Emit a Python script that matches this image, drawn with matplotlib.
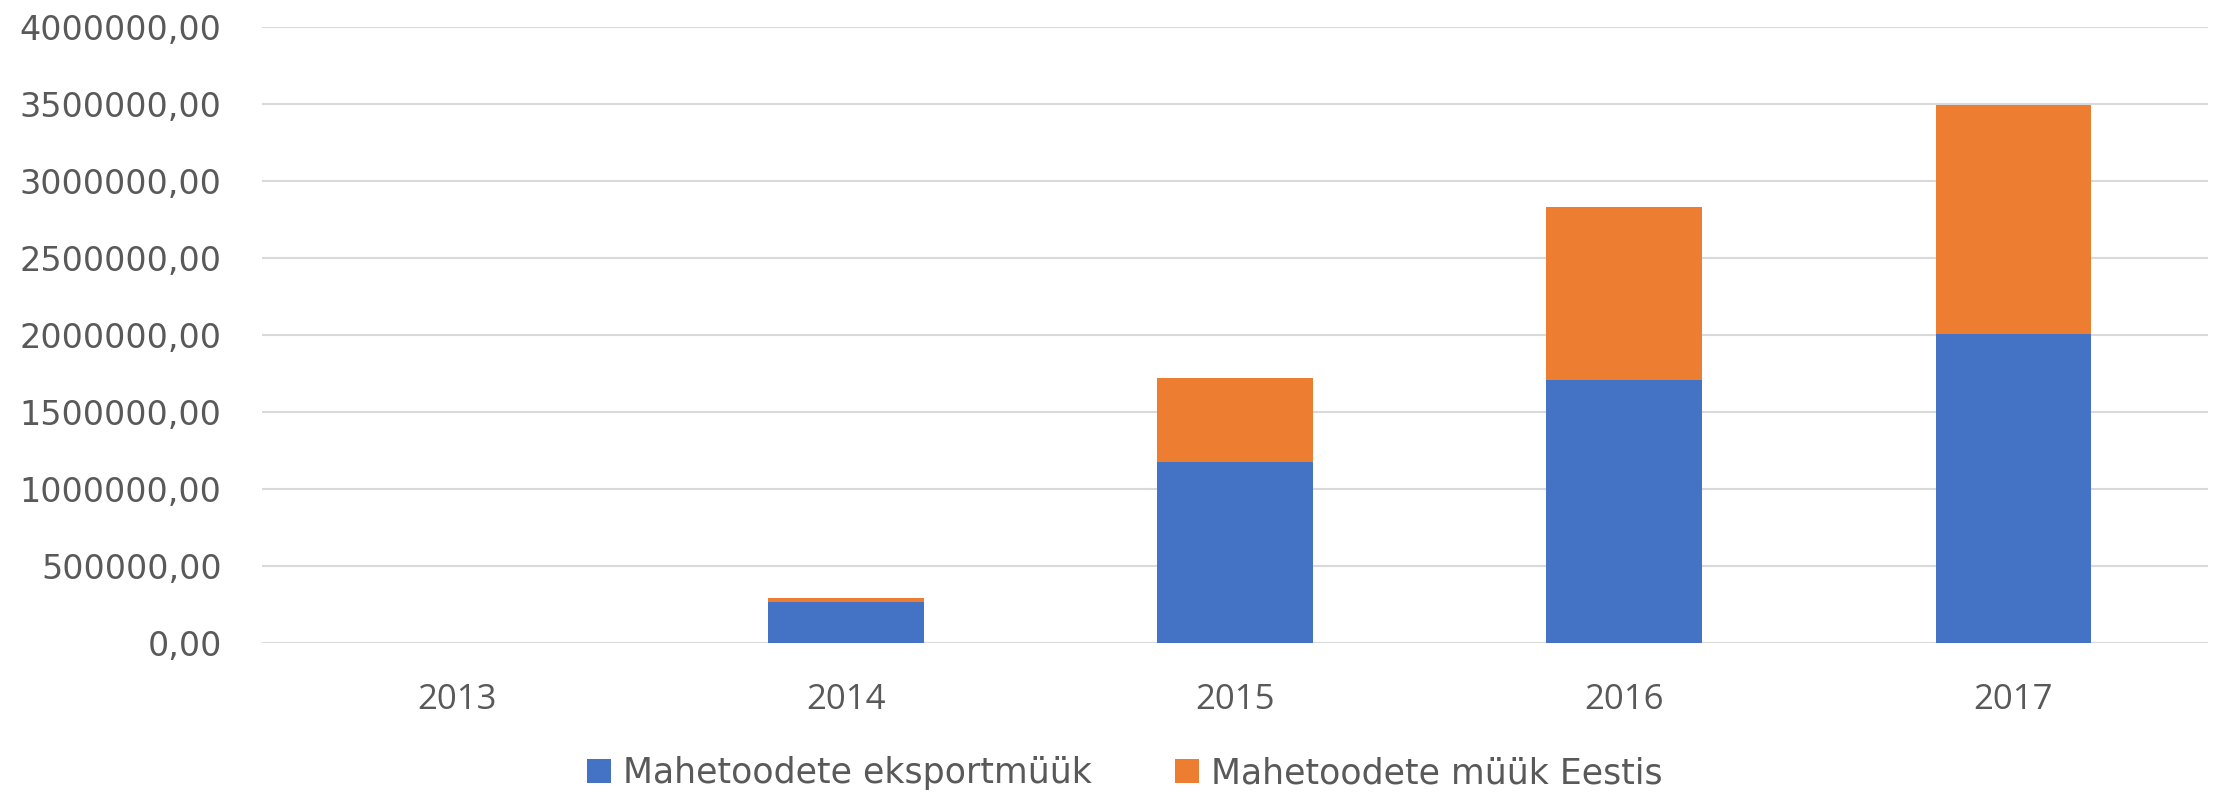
import numpy as np
import matplotlib
matplotlib.use("Agg")
import matplotlib.pyplot as plt
from matplotlib.ticker import FuncFormatter

years = ["2013", "2014", "2015", "2016", "2017"]
export_sales = [0, 264000, 1177000, 1705000, 2005000]
domestic_sales = [0, 26000, 543000, 1124000, 1490000]
series_labels = ["Mahetoodete eksportmüük", "Mahetoodete müük Eestis"]

BLUE = "#4472C4"
ORANGE = "#ED7D31"
TEXT = "#595959"
GRID = "#D9D9D9"

fig = plt.figure(figsize=(22.14, 7.94), dpi=100)
ax = fig.add_axes([262 / 2214, 1 - 643 / 794, (2208 - 262) / 2214, (643 - 27) / 794])

x = np.arange(len(years))
ax.bar(x, export_sales, width=0.4, color=BLUE, label=series_labels[0], zorder=3)
ax.bar(x, domestic_sales, width=0.4, bottom=export_sales, color=ORANGE,
       label=series_labels[1], zorder=3)

ax.set_xlim(-0.5, len(years) - 0.5)
ax.set_ylim(0, 4000000)
ax.set_yticks(np.arange(0, 4000001, 500000))
ax.yaxis.set_major_formatter(FuncFormatter(lambda v, p: f"{v:.2f}".replace(".", ",")))
ax.set_xticks(x)
ax.set_xticklabels(years)

ax.grid(axis="y", color=GRID, linewidth=1.5, zorder=0)
for s in ax.spines.values():
    s.set_visible(False)

ax.tick_params(axis="both", length=0, colors=TEXT)
ax.tick_params(axis="y", pad=29, labelsize=24)
ax.tick_params(axis="x", pad=29, labelsize=25)
for lab in ax.get_yticklabels():
    lab.set_family("DejaVu Sans")
for lab in ax.get_xticklabels():
    lab.set_family("Open Sans")

leg = fig.legend(loc="center", bbox_to_anchor=(1125 / 2214, 1 - 773 / 794), ncol=2,
                 frameon=False, prop={"family": "DejaVu Sans", "size": 25},
                 handlelength=0.69, handleheight=0.66, handletextpad=0.35,
                 columnspacing=2.4, labelcolor=TEXT)

fig.savefig("out.png", dpi=100)
